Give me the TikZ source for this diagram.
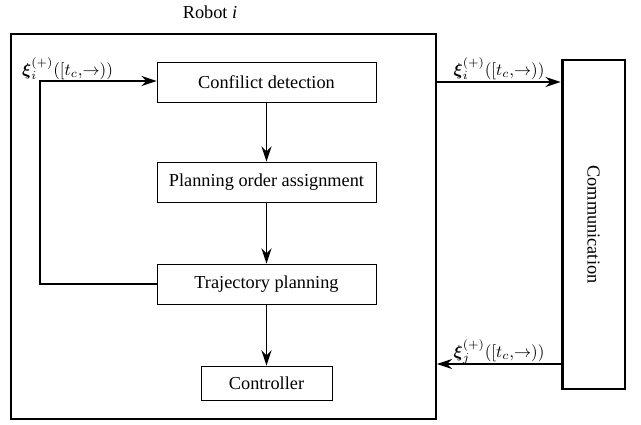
\documentclass[tikz,border=0pt]{standalone}
\usepackage{amsmath}
\usepackage{fontspec}
\setmainfont{Liberation Serif}
\usetikzlibrary{arrows.meta}
\begin{document}
\begin{tikzpicture}[x=0.585pt,y=-0.585pt,
  txt/.style={font=\fontsize{10.7}{12}\selectfont},
  blk/.style={draw,line width=0.5pt,minimum width=128.1pt,minimum height=23.4pt,inner sep=0pt,txt},
  arr/.style={line width=1.1pt,-{Stealth[length=9pt,width=6pt,inset=3pt]}},
  lbl/.style={font=\fontsize{10}{12}\selectfont,inner sep=1pt}]
\useasboundingbox (0,0) rectangle (641,424);
\node[draw,line width=1.1pt,minimum width=248.6pt,minimum height=225.2pt,inner sep=0pt] (robot) at (223.5,226.5) {};
\node[txt,inner sep=1pt] (title) at (210,12) {Robot \textit{i}};
\node[draw,line width=1.7pt,minimum width=36.8pt,minimum height=192.5pt,inner sep=0pt] (comm) at (593.5,224.5) {};
\node[txt,inner sep=1pt,rotate=-90] (commt) at (593.5,224.5) {Communication};
\node[blk] (cd) at (266.5,82) {Confilict detection};
\node[blk] (po) at (266.5,182) {Planning order assignment};
\node[blk] (tp) at (266.5,284) {Trajectory planning};
\node[blk,minimum width=76.6pt,minimum height=19.9pt] (ctl) at (266.5,383) {Controller};
\coordinate (lp) at (40,284);
\coordinate (lq) at (40,81);
\draw[arr] (cd) -- (po);
\draw[arr] (po) -- (tp);
\draw[arr] (tp) -- (ctl);
\draw[arr] (tp.west) -- (lp) -- (lq) -- (cd.west |- lq);
\node[lbl,anchor=base west] (l1) at (20,75) {$\boldsymbol{\xi}_i^{(+)}([t_c,\!\rightarrow))$};
\draw[arr] (robot.east |- 0,82) -- (comm.west |- 0,82);
\node[lbl,anchor=base] (l2) at (499,75) {$\boldsymbol{\xi}_i^{(+)}([t_c,\!\rightarrow))$};
\draw[arr] (comm.west |- 0,364) -- (robot.east |- 0,364);
\node[lbl,anchor=base] (l3) at (499,357) {$\boldsymbol{\xi}_j^{(+)}([t_c,\!\rightarrow))$};
\end{tikzpicture}
\end{document}
